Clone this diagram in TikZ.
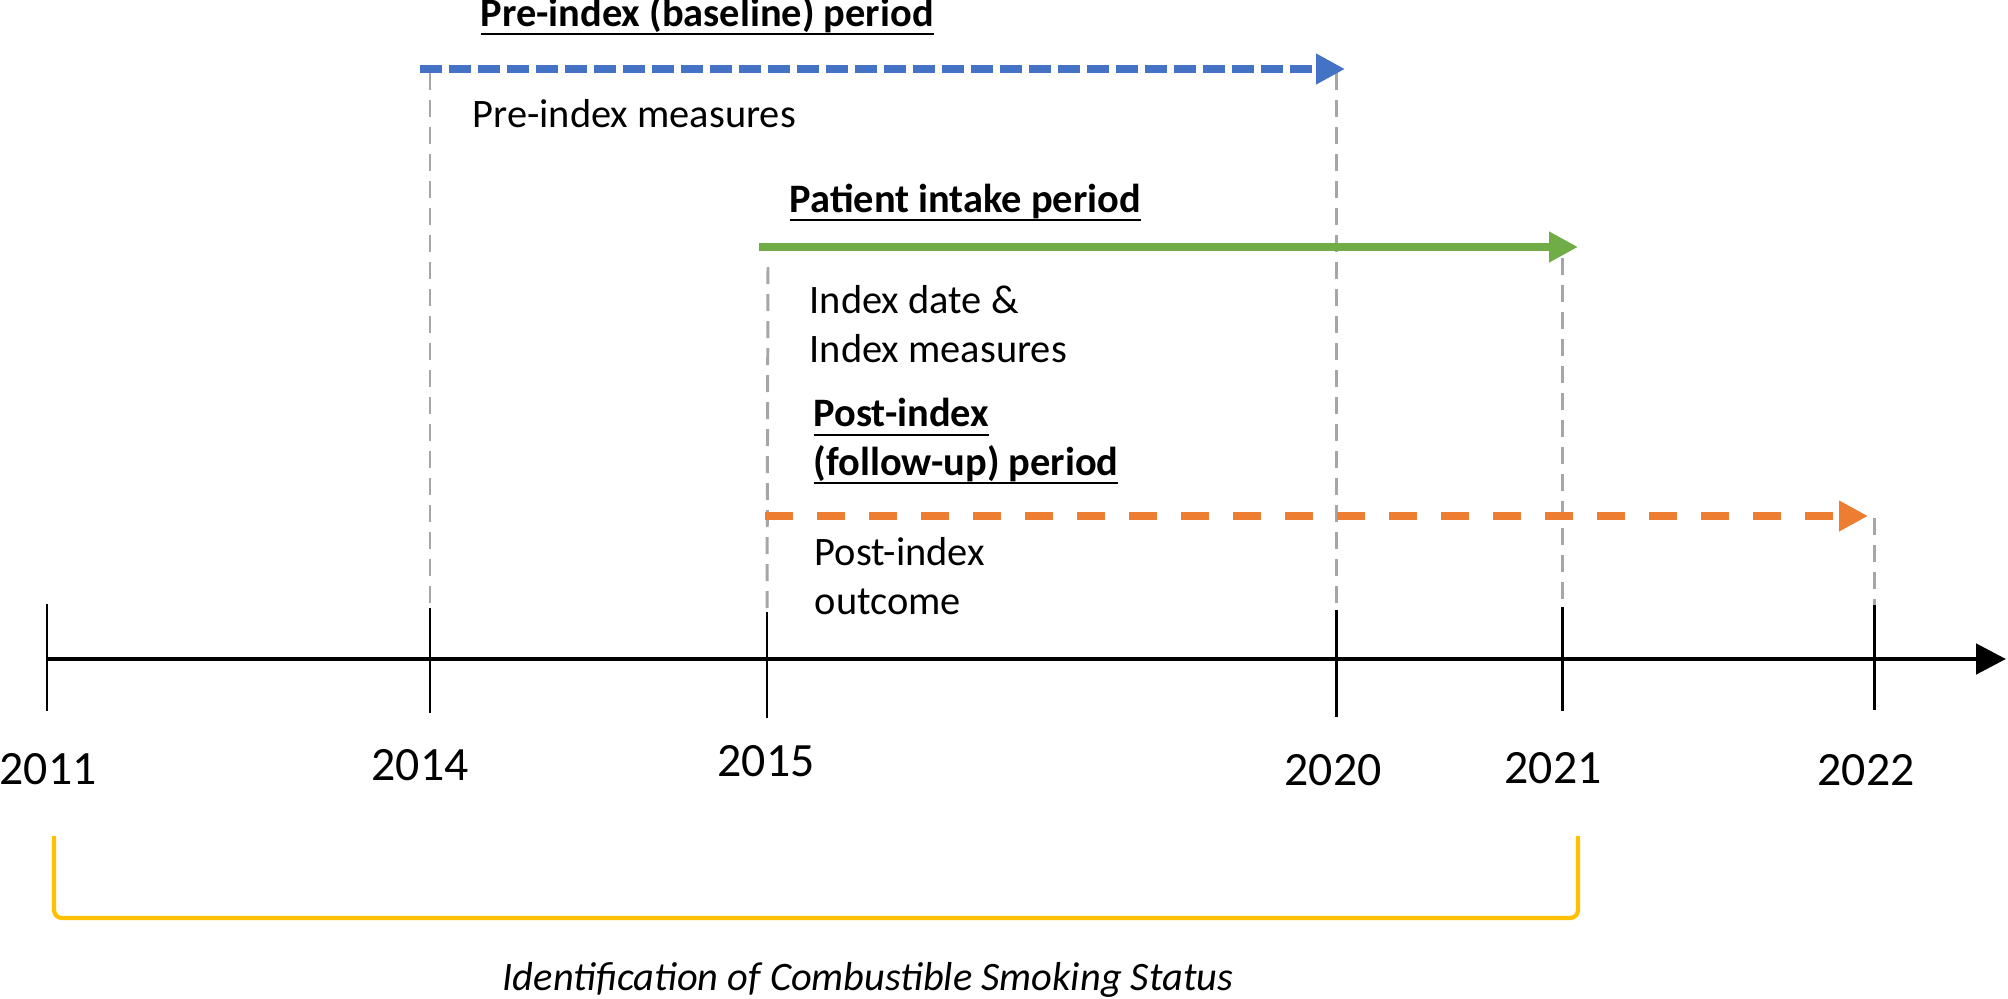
\documentclass[tikz,border=0pt]{standalone}
\usepackage{fontspec}
\setmainfont{Carlito}
\usepackage{tikz}
\usetikzlibrary{arrows.meta}
\usetikzlibrary{positioning}
\definecolor{periodblue}{HTML}{4472C4}
\definecolor{intakegreen}{HTML}{70AD47}
\definecolor{followorange}{HTML}{ED7D31}
\definecolor{bracketyellow}{HTML}{FFC000}
\definecolor{guidegray}{HTML}{A6A6A6}
\newcommand{\ulbar}[1]{\setbox0\hbox{#1}\vtop{\copy0\kern-\dp0\kern2pt\hrule height 0.6pt}}

\begin{document}
\begin{tikzpicture}[
    guide/.style={draw=guidegray, line width=0.85pt, dash pattern=on 0.17cm off 0.10cm},
    tickline/.style={draw=black, line width=0.85pt},
    periodarrow/.style={-{Triangle[length=0.29cm,width=0.29cm]}, line width=2.2pt},
    year/.style={inner sep=0pt, font=\fontsize{13.6}{16}\selectfont},
    note/.style={anchor=base west, inner sep=0pt, align=left, font=\fontsize{11.5}{13.7}\selectfont},
    heading/.style={note, font=\fontsize{11.5}{13.7}\selectfont\bfseries}
    ]
            \useasboundingbox (0,0) rectangle (20.08,-9.98);

            \coordinate (axisstart) at (0.47,-6.59);
            \coordinate (axisend) at (20.06,-6.59);
            \draw [-{Triangle[length=0.30cm,width=0.30cm]}, line width=1.4pt] (axisstart) -- (axisend);

            \coordinate (t2011top) at (0.47,-6.04);
            \coordinate (t2011bot) at (0.47,-7.11);
            \coordinate (t2014top) at (4.30,-6.08);
            \coordinate (t2014bot) at (4.30,-7.13);
            \coordinate (t2015top) at (7.67,-6.12);
            \coordinate (t2015bot) at (7.67,-7.18);
            \coordinate (t2020top) at (13.36,-6.10);
            \coordinate (t2020bot) at (13.36,-7.17);
            \coordinate (t2021top) at (15.62,-6.07);
            \coordinate (t2021bot) at (15.62,-7.11);
            \coordinate (t2022top) at (18.74,-6.05);
            \coordinate (t2022bot) at (18.74,-7.10);
            \draw [tickline] (t2011top) -- (t2011bot);
            \draw [tickline] (t2014top) -- (t2014bot);
            \draw [tickline] (t2015top) -- (t2015bot);
            \draw [tickline] (t2020top) -- (t2020bot);
            \draw [tickline] (t2021top) -- (t2021bot);
            \draw [tickline] (t2022top) -- (t2022bot);

            \node [year] (y2011) at (0.48,-7.69) {2011};
            \node [year] (y2014) at (4.20,-7.65) {2014};
            \node [year] (y2015) at (7.66,-7.61) {2015};
            \node [year] (y2020) at (13.33,-7.70) {2020};
            \node [year] (y2021) at (15.53,-7.68) {2021};
            \node [year] (y2022) at (18.66,-7.70) {2022};

            \coordinate (g2014) at (4.30,-0.73);
            \coordinate (g2020) at (13.36,-0.73);
            \coordinate (g2015) at (7.68,-2.67);
            \coordinate (g2021) at (15.62,-2.58);
            \coordinate (g2022) at (18.74,-5.18);
            \draw [guide] (g2014) -- (t2014top);
            \draw [guide] (g2020) -- (t2020top);
            \draw [guide] (g2015) -- (t2015top);
            \draw [guide] (g2021) -- (t2021top);
            \draw [guide] (g2022) -- (t2022top);

            \coordinate (bluestart) at (4.20,-0.69);
            \coordinate (blueend) at (13.45,-0.69);
            \coordinate (greenstart) at (7.59,-2.47);
            \coordinate (greenend) at (15.78,-2.47);
            \coordinate (orangestart) at (7.65,-5.16);
            \coordinate (orangeend) at (18.68,-5.16);
            \draw [periodarrow, draw=periodblue, dash pattern=on 0.22cm off 0.07cm] (bluestart) -- (blueend);
            \draw [periodarrow, draw=intakegreen] (greenstart) -- (greenend);
            \draw [periodarrow, draw=followorange, dash pattern=on 0.28cm off 0.24cm] (orangestart) -- (orangeend);

            \node [heading] (preheading) at (4.80,-0.26) {\ulbar{Pre-index (baseline) period}};
            \node [note] (premeasures) at (4.72,-1.27) {Pre-index measures};
            \node [heading] (intakeheading) at (7.89,-2.12) {\ulbar{Patient intake period}};
            \node [note] (indexmeasures) at (8.09,-3.62) {Index date \&\\Index measures};
            \node [heading] (postheading) at (8.13,-4.75) {\ulbar{Post-index}\\\ulbar{(follow-up) period}};
            \node [note] (postoutcome) at (8.14,-6.14) {Post-index\\outcome};

            \coordinate (bracketleft) at (0.54,-8.36);
            \coordinate (bracketright) at (15.78,-8.36);
            \draw [draw=bracketyellow, line width=1.2pt, rounded corners=0.08cm] (bracketleft) -- ++(0,-0.82) -| (bracketright);
            \node [anchor=base, inner sep=0pt, font=\fontsize{11.5}{13.7}\selectfont\itshape] (smokingstatus) at (8.68,-9.90) {Identification of Combustible Smoking Status};
        \end{tikzpicture}
\end{document}
